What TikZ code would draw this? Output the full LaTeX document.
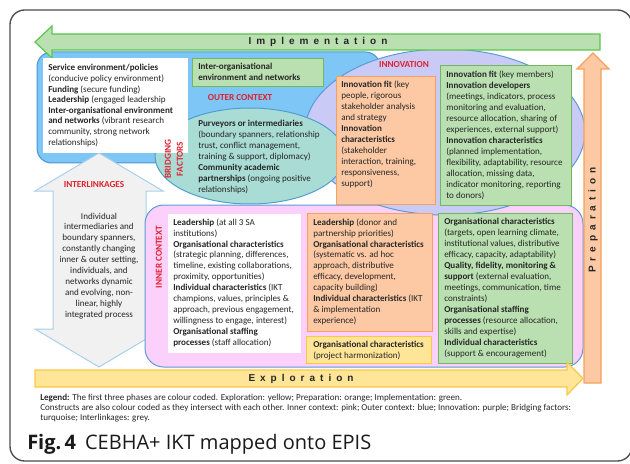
\documentclass[tikz,border=0pt]{standalone}
\usepackage{fontspec}
\setmainfont{Carlito}
\newfontfamily\arialf{Liberation Sans}
\newfontfamily\capf{Open Sans}
\usetikzlibrary{shapes.geometric,fit}
\definecolor{bluefill}{HTML}{7DC6F5}
\definecolor{bluedraw}{HTML}{4A96D0}
\definecolor{purpfill}{HTML}{CACAF6}
\definecolor{purpdraw}{HTML}{5B9BD5}
\definecolor{turqfill}{HTML}{A9DCD5}
\definecolor{turqdraw}{HTML}{4F9FCF}
\definecolor{pinkfill}{HTML}{FBD0FB}
\definecolor{orfill}{HTML}{FCC9A4}
\definecolor{ordraw}{HTML}{F5A05E}
\definecolor{grfill}{HTML}{BAE0B1}
\definecolor{grdraw}{HTML}{70B85F}
\definecolor{yefill}{HTML}{FEE597}
\definecolor{yedraw}{HTML}{F9C846}
\definecolor{greyfill}{HTML}{F1F1F1}
\definecolor{greydraw}{HTML}{A8D0EC}
\definecolor{redc}{HTML}{E0202E}
\definecolor{txtc}{HTML}{262626}
\tikzset{
  box/.style={rectangle, inner sep=0pt, line width=0.75pt},
  wbox/.style={box, fill=white},
  obox/.style={box, fill=orfill, draw=ordraw},
  gbox/.style={box, fill=grfill, draw=grdraw},
  ybox/.style={box, fill=yefill, draw=yedraw},
  txt/.style={font=\fontsize{6.8}{8.2}\selectfont, inner sep=0pt, anchor=north west, align=left, text=txtc},
  lbl/.style={font=\fontsize{6.9}{9}\selectfont\bfseries, text=redc, inner sep=0pt},
  phase/.style={font=\arialf\bfseries\fontsize{7.5}{9}\selectfont\addfontfeature{LetterSpace=50}, inner sep=0pt, text=black!85},
  phasearrow/.style={line width=0.9pt, line join=miter},
}
\begin{document}
\begin{tikzpicture}[x=0.75pt,y=-0.75pt]
\useasboundingbox (0,0) rectangle (630,463);
% frame
\draw[line width=1pt, black!70, rounded corners=11pt] (10,10) rectangle (632,461);
% outer context
\node[box, fill=bluefill, draw=bluedraw, rounded corners=11pt, fit={(37,52) (380,163)}] (outerctx) {};
% interlinkages double arrow
\draw[fill=greyfill, draw=greydraw, line width=0.75pt] (99,153) -- (163,191) -- (146,191) -- (146,329) -- (163,329) -- (99,367) -- (35,329) -- (53,329) -- (53,191) -- (35,191) -- cycle;
% inner context
\node[box, fill=pinkfill, draw=purpdraw, rounded corners=14pt, fit={(145,205) (583,367)}] (innerctx) {};
% innovation
\node[ellipse, draw=purpdraw, fill=purpfill, line width=0.75pt, inner sep=0pt, minimum width=280*0.75pt, minimum height=166*0.75pt] (innov) at (445,132) {};
% bridging factors
\node[ellipse, draw=turqdraw, fill=turqfill, line width=0.75pt, inner sep=0pt, minimum width=190*0.75pt, minimum height=96*0.75pt] (bridge) at (250,156) {};
% implementation arrow
\draw[phasearrow, fill=grfill, draw=grdraw!80!green] (600,34) -- (52,34) -- (52,26) -- (35,42) -- (52,58) -- (52,50) -- (600,50) -- cycle;
% boxes
\node[wbox, fit={(43,58) (188,153)}] (svcbox) {};
\node[gbox, fit={(192,59) (323,87)}] (interbox) {};
\node[obox, fit={(336,77) (435,204)}] (innofitbox) {};
\node[gbox, fit={(440,66) (571,205)}] (innodevbox) {};
\node[wbox, fit={(168,214) (301,353)}] (leadbox) {};
\node[obox, fit={(307,213) (432,331)}] (donorbox) {};
\node[ybox, fit={(306,336) (431,363)}] (harmbox) {};
\node[gbox, fit={(438,213) (572,363)}] (targetbox) {};
% preparation and exploration arrows
\draw[phasearrow, fill=orfill, draw=ordraw] (584,383) -- (584,69) -- (577,69) -- (593,53) -- (609,69) -- (601,69) -- (601,383) -- cycle;
\draw[phasearrow, fill=yefill, draw=yedraw] (35,370) -- (567,370) -- (567,362) -- (583,378.5) -- (567,395) -- (567,387) -- (35,387) -- cycle;
% phase labels
\node[phase] (impl) at (318,42) {Implementation};
\node[phase, rotate=90] (prep) at (593,220) {Preparation};
\node[phase] (expl) at (301,378.5) {Exploration};
% red labels
\node[lbl] (outerlbl) at (240,98) {OUTER CONTEXT};
\node[lbl] (innovlbl) at (404,65) {INNOVATION};
\node[lbl] (interlbl) at (94,185) {INTERLINKAGES};
\node[lbl, rotate=90] (innerlbl) at (159,257) {INNER CONTEXT};
\node[lbl, rotate=90, align=center, font=\fontsize{6.9}{9}\selectfont\bfseries] (bridgelbl) at (174,159) {BRIDGING\\FACTORS};
% texts
\node[txt, font=\fontsize{6.8}{7.95}\selectfont] (svctxt) at (48,64.3) {\textbf{Service environment/policies}\\
(conducive policy environment)\\
\textbf{Funding} (secure funding)\\
\textbf{Leadership} (engaged leadership\\
\textbf{Inter-organisational environment}\\
\textbf{and networks} (vibrant research\\
community, strong network\\
relationships)};
\node[txt] (intertxt) at (198,63.3) {\textbf{Inter-organisational}\\\textbf{environment and networks}};
\node[txt] (bridgetxt) at (198,120) {\textbf{Purveyors or intermediaries}\\
(boundary spanners, relationship\\
trust, conflict management,\\
training \& support, diplomacy)\\
\textbf{Community academic}\\
\textbf{partnerships} (ongoing positive\\
relationships)};
\node[txt] (innofittxt) at (341,81) {\textbf{Innovation fit} (key\\
people, rigorous\\
stakeholder analysis\\
and strategy\\
\textbf{Innovation}\\
\textbf{characteristics}\\
(stakeholder\\
interaction, training,\\
responsiveness,\\
support)};
\node[txt] (innodevtxt) at (446,71) {\textbf{Innovation fit} (key members)\\
\textbf{Innovation developers}\\
(meetings, indicators, process\\
monitoring and evaluation,\\
resource allocation, sharing of\\
experiences, external support)\\
\textbf{Innovation characteristics}\\
(planned implementation,\\
flexibility, adaptability, resource\\
allocation, missing data,\\
indicator monitoring, reporting\\
to donors)};
\node[txt] (leadtxt) at (173,218.3) {\textbf{Leadership} (at all 3 SA\\
institutions)\\
\textbf{Organisational characteristics}\\
(strategic planning, differences,\\
timeline, existing collaborations,\\
proximity, opportunities)\\
\textbf{Individual characteristics} (IKT\\
champions, values, principles \&\\
approach, previous engagement,\\
willingness to engage, interest)\\
\textbf{Organisational staffing}\\
\textbf{processes} (staff allocation)};
\node[txt] (donortxt) at (313,218.3) {\textbf{Leadership} (donor and\\
partnership priorities)\\
\textbf{Organisational characteristics}\\
(systematic vs. ad hoc\\
approach, distributive\\
efficacy, development,\\
capacity building)\\
\textbf{Individual characteristics} (IKT\\
\& implementation\\
experience)};
\node[txt] (harmtxt) at (313,341) {\textbf{Organisational characteristics}\\
(project harmonization)};
\node[txt] (targettxt) at (444,218.3) {\textbf{Organisational characteristics}\\
(targets, open learning climate,\\
institutional values, distributive\\
efficacy, capacity, adaptability)\\
\textbf{Quality, fidelity, monitoring \&}\\
\textbf{support} (external evaluation,\\
meetings, communication, time\\
constraints)\\
\textbf{Organisational staffing}\\
\textbf{processes} (resource allocation,\\
skills and expertise)\\
\textbf{Individual characteristics}\\
(support \& encouragement)};
\node[txt, anchor=north, align=center] (intertext) at (99,212.5) {Individual\\
intermediaries and\\
boundary spanners,\\
constantly changing\\
inner \& outer setting,\\
individuals, and\\
networks dynamic\\
and evolving, non-\\
linear, highly\\
integrated process};
% legend
\node[txt, font=\fontsize{6.8}{7.5}\selectfont] (legend) at (40,393.5) {\textbf{Legend:} The first three phases are colour coded. Exploration: yellow; Preparation: orange; Implementation: green.\\
Constructs are also colour coded as they intersect with each other. Inner context: pink; Outer context: blue; Innovation: purple; Bridging factors:\\
turquoise; Interlinkages: grey.};
% caption
\node[anchor=base west, inner sep=0pt, text=black!90] (caption) at (27,449) {\capf\fontsize{15}{18}\selectfont\textbf{Fig.\,4}\hspace{0.45em}CEBHA+ IKT mapped onto EPIS};
\end{tikzpicture}
\end{document}
